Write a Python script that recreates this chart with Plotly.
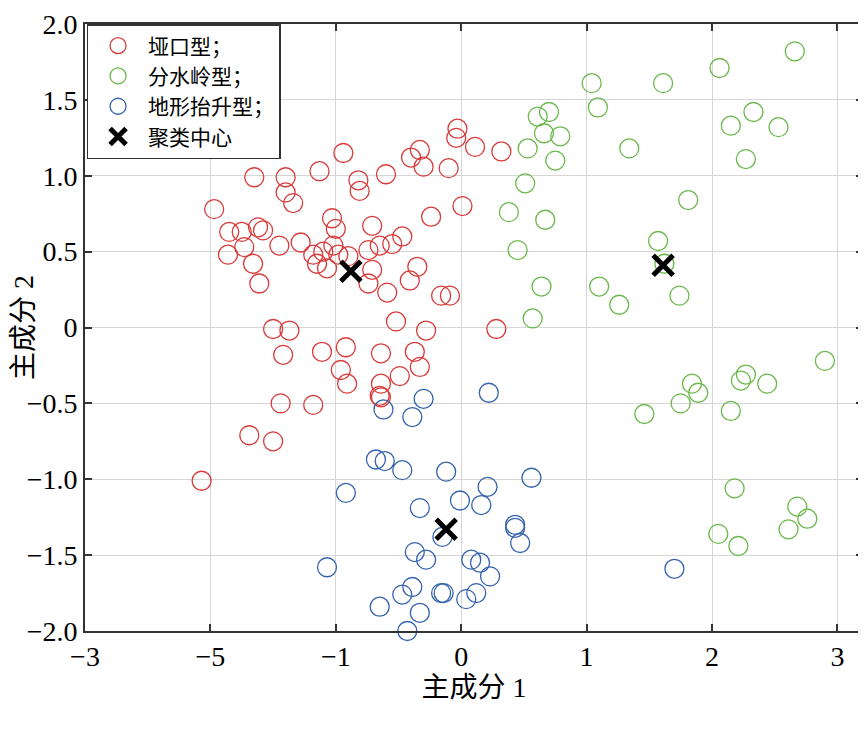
import plotly.graph_objects as go

# 主成分得分
red_x = [-1.97, -1.65, -1.40, -1.40, -1.34, -1.13, -0.94, -0.82, -0.81, -0.60,
         -0.40, -0.33, -0.30, -0.10, -0.03, -0.04, 0.11, 0.32, 0.01, -0.24,
         -1.85, -1.75, -1.62, -1.58, -1.73, -1.86, -1.66, -1.61, -1.45, -1.28,
         -1.03, -1.00, -1.02, -1.18, -1.15, -1.07, -1.10, -0.98, -0.90, -0.71,
         -0.74, -0.65, -0.55, -0.47, -0.71, -0.74, -0.59, -0.35, -0.41, -0.16,
         -0.09, -1.50, -1.37, -1.42, -1.11, -0.92, -0.96, -0.91, -0.64, -0.37,
         -0.33, -0.49, -0.52, -0.28, 0.28, -0.64, -0.65, -0.64, -1.44, -1.18,
         -1.69, -1.50, -2.07]
red_y = [0.78, 0.99, 0.99, 0.89, 0.82, 1.03, 1.15, 0.97, 0.90, 1.01,
         1.12, 1.17, 1.06, 1.05, 1.31, 1.25, 1.19, 1.16, 0.80, 0.73,
         0.63, 0.63, 0.66, 0.64, 0.53, 0.48, 0.42, 0.29, 0.54, 0.56,
         0.72, 0.65, 0.54, 0.48, 0.42, 0.39, 0.50, 0.48, 0.47, 0.67,
         0.51, 0.54, 0.55, 0.60, 0.38, 0.29, 0.23, 0.40, 0.31, 0.21,
         0.21, -0.01, -0.02, -0.18, -0.16, -0.13, -0.28, -0.37, -0.17, -0.16,
         -0.26, -0.32, 0.04, -0.02, -0.01, -0.37, -0.45, -0.46, -0.50, -0.51,
         -0.71, -0.75, -1.01]

green_x = [2.66, 2.06, 1.61, 1.04, 1.09, 0.70, 0.61, 0.66, 0.79, 0.53,
           0.75, 1.34, 2.33, 2.15, 2.53, 2.27, 0.51, 0.38, 0.67, 1.81,
           0.45, 1.57, 1.62, 0.64, 1.10, 1.26, 1.74, 0.57, 2.90, 2.27,
           2.23, 2.44, 1.84, 1.89, 1.75, 1.46, 2.15, 2.18, 2.68, 2.76,
           2.61, 2.05, 2.21]
green_y = [1.82, 1.71, 1.61, 1.61, 1.45, 1.42, 1.39, 1.28, 1.26, 1.18,
           1.10, 1.18, 1.42, 1.33, 1.32, 1.11, 0.95, 0.76, 0.71, 0.84,
           0.51, 0.57, 0.42, 0.27, 0.27, 0.15, 0.21, 0.06, -0.22, -0.31,
           -0.35, -0.37, -0.37, -0.43, -0.50, -0.57, -0.55, -1.06, -1.18, -1.26,
           -1.33, -1.36, -1.44]

blue_x = [-0.62, -0.30, -0.39, 0.22, -0.68, -0.61, -0.47, -0.12, -0.92, -0.33,
          -0.01, 0.16, 0.21, 0.56, 0.43, 0.43, 0.47, -0.15, -0.37, -0.28,
          0.08, 0.15, 0.23, -1.07, -0.39, -0.47, -0.16, -0.14, 0.12, 0.04,
          -0.65, -0.33, -0.43, 1.70]
blue_y = [-0.54, -0.47, -0.59, -0.43, -0.87, -0.88, -0.94, -0.95, -1.09, -1.19,
          -1.14, -1.17, -1.05, -0.99, -1.30, -1.32, -1.42, -1.38, -1.48, -1.53,
          -1.53, -1.55, -1.64, -1.58, -1.71, -1.76, -1.75, -1.75, -1.75, -1.79,
          -1.84, -1.88, -2.00, -1.59]

center_x = [-0.88, 1.61, -0.12]
center_y = [0.37, 0.41, -1.33]

x_tickvals = [-3, -2, -1, 0, 1, 2, 3]
x_ticktext = ['−3', '−5', '−1', '0', '1', '2', '3']
y_tickvals = [2.0, 1.5, 1.0, 0.5, 0, -0.5, -1.0, -1.5, -2.0]
y_ticktext = ['2.0', '1.5', '1.0', '0.5', '0', '−0.5', '−1.0', '−1.5', '−2.0']

serif = 'Liberation Serif, Times New Roman, Noto Sans CJK SC, serif'

fig = go.Figure()

groups = [
    ('垭口型；', red_x, red_y, '#d93a3a'),
    ('分水岭型；', green_x, green_y, '#6bb84c'),
    ('地形抬升型；', blue_x, blue_y, '#3563ad'),
]
for name, xs, ys, col in groups:
    fig.add_trace(go.Scatter(
        x=xs, y=ys, mode='markers', name=name, cliponaxis=False,
        marker=dict(symbol='circle-open', size=19, color=col,
                    line=dict(width=1.3, color=col))
    ))

fig.add_trace(go.Scatter(
    x=center_x, y=center_y, mode='markers', name='聚类中心', cliponaxis=False,
    marker=dict(symbol='x-thin', size=20, color='black',
                line=dict(width=5, color='black'))
))

axis_common = dict(
    automargin=False,
    ticklabeloverflow='allow',
    showgrid=True, gridcolor='#d6d6d6', gridwidth=1.3,
    showline=True, linecolor='#333333', linewidth=1.6,
    mirror='ticks', ticks='inside', ticklen=7, tickwidth=1.6, tickcolor='#333333',
    zeroline=False,
    tickfont=dict(family=serif, size=28, color='black'),
)

fig.update_xaxes(
    range=[-3, 3.204], tickvals=x_tickvals, ticktext=x_ticktext,
    title=dict(text='主成分 1', font=dict(family=serif, size=28, color='black'), standoff=6),
    **axis_common
)
fig.update_yaxes(
    range=[-2, 2], tickvals=y_tickvals, ticktext=y_ticktext,
    title=dict(text='主成分 2', font=dict(family=serif, size=28, color='black'), standoff=0),
    **axis_common
)

# the page adds an 8px body margin, so the margins are shifted by that
fig.update_layout(
    width=866,
    height=730,
    margin=dict(l=77, r=11, t=16, b=107),
    plot_bgcolor='white',
    paper_bgcolor='white',
    legend=dict(
        x=0.002, y=1, xanchor='left', yanchor='top',
        bgcolor='white', bordercolor='#333333', borderwidth=1.5,
        font=dict(family=serif, size=21, color='black'),
        tracegroupgap=0, itemwidth=50,
    ),
    showlegend=True,
)

fig.write_html("out.html")
